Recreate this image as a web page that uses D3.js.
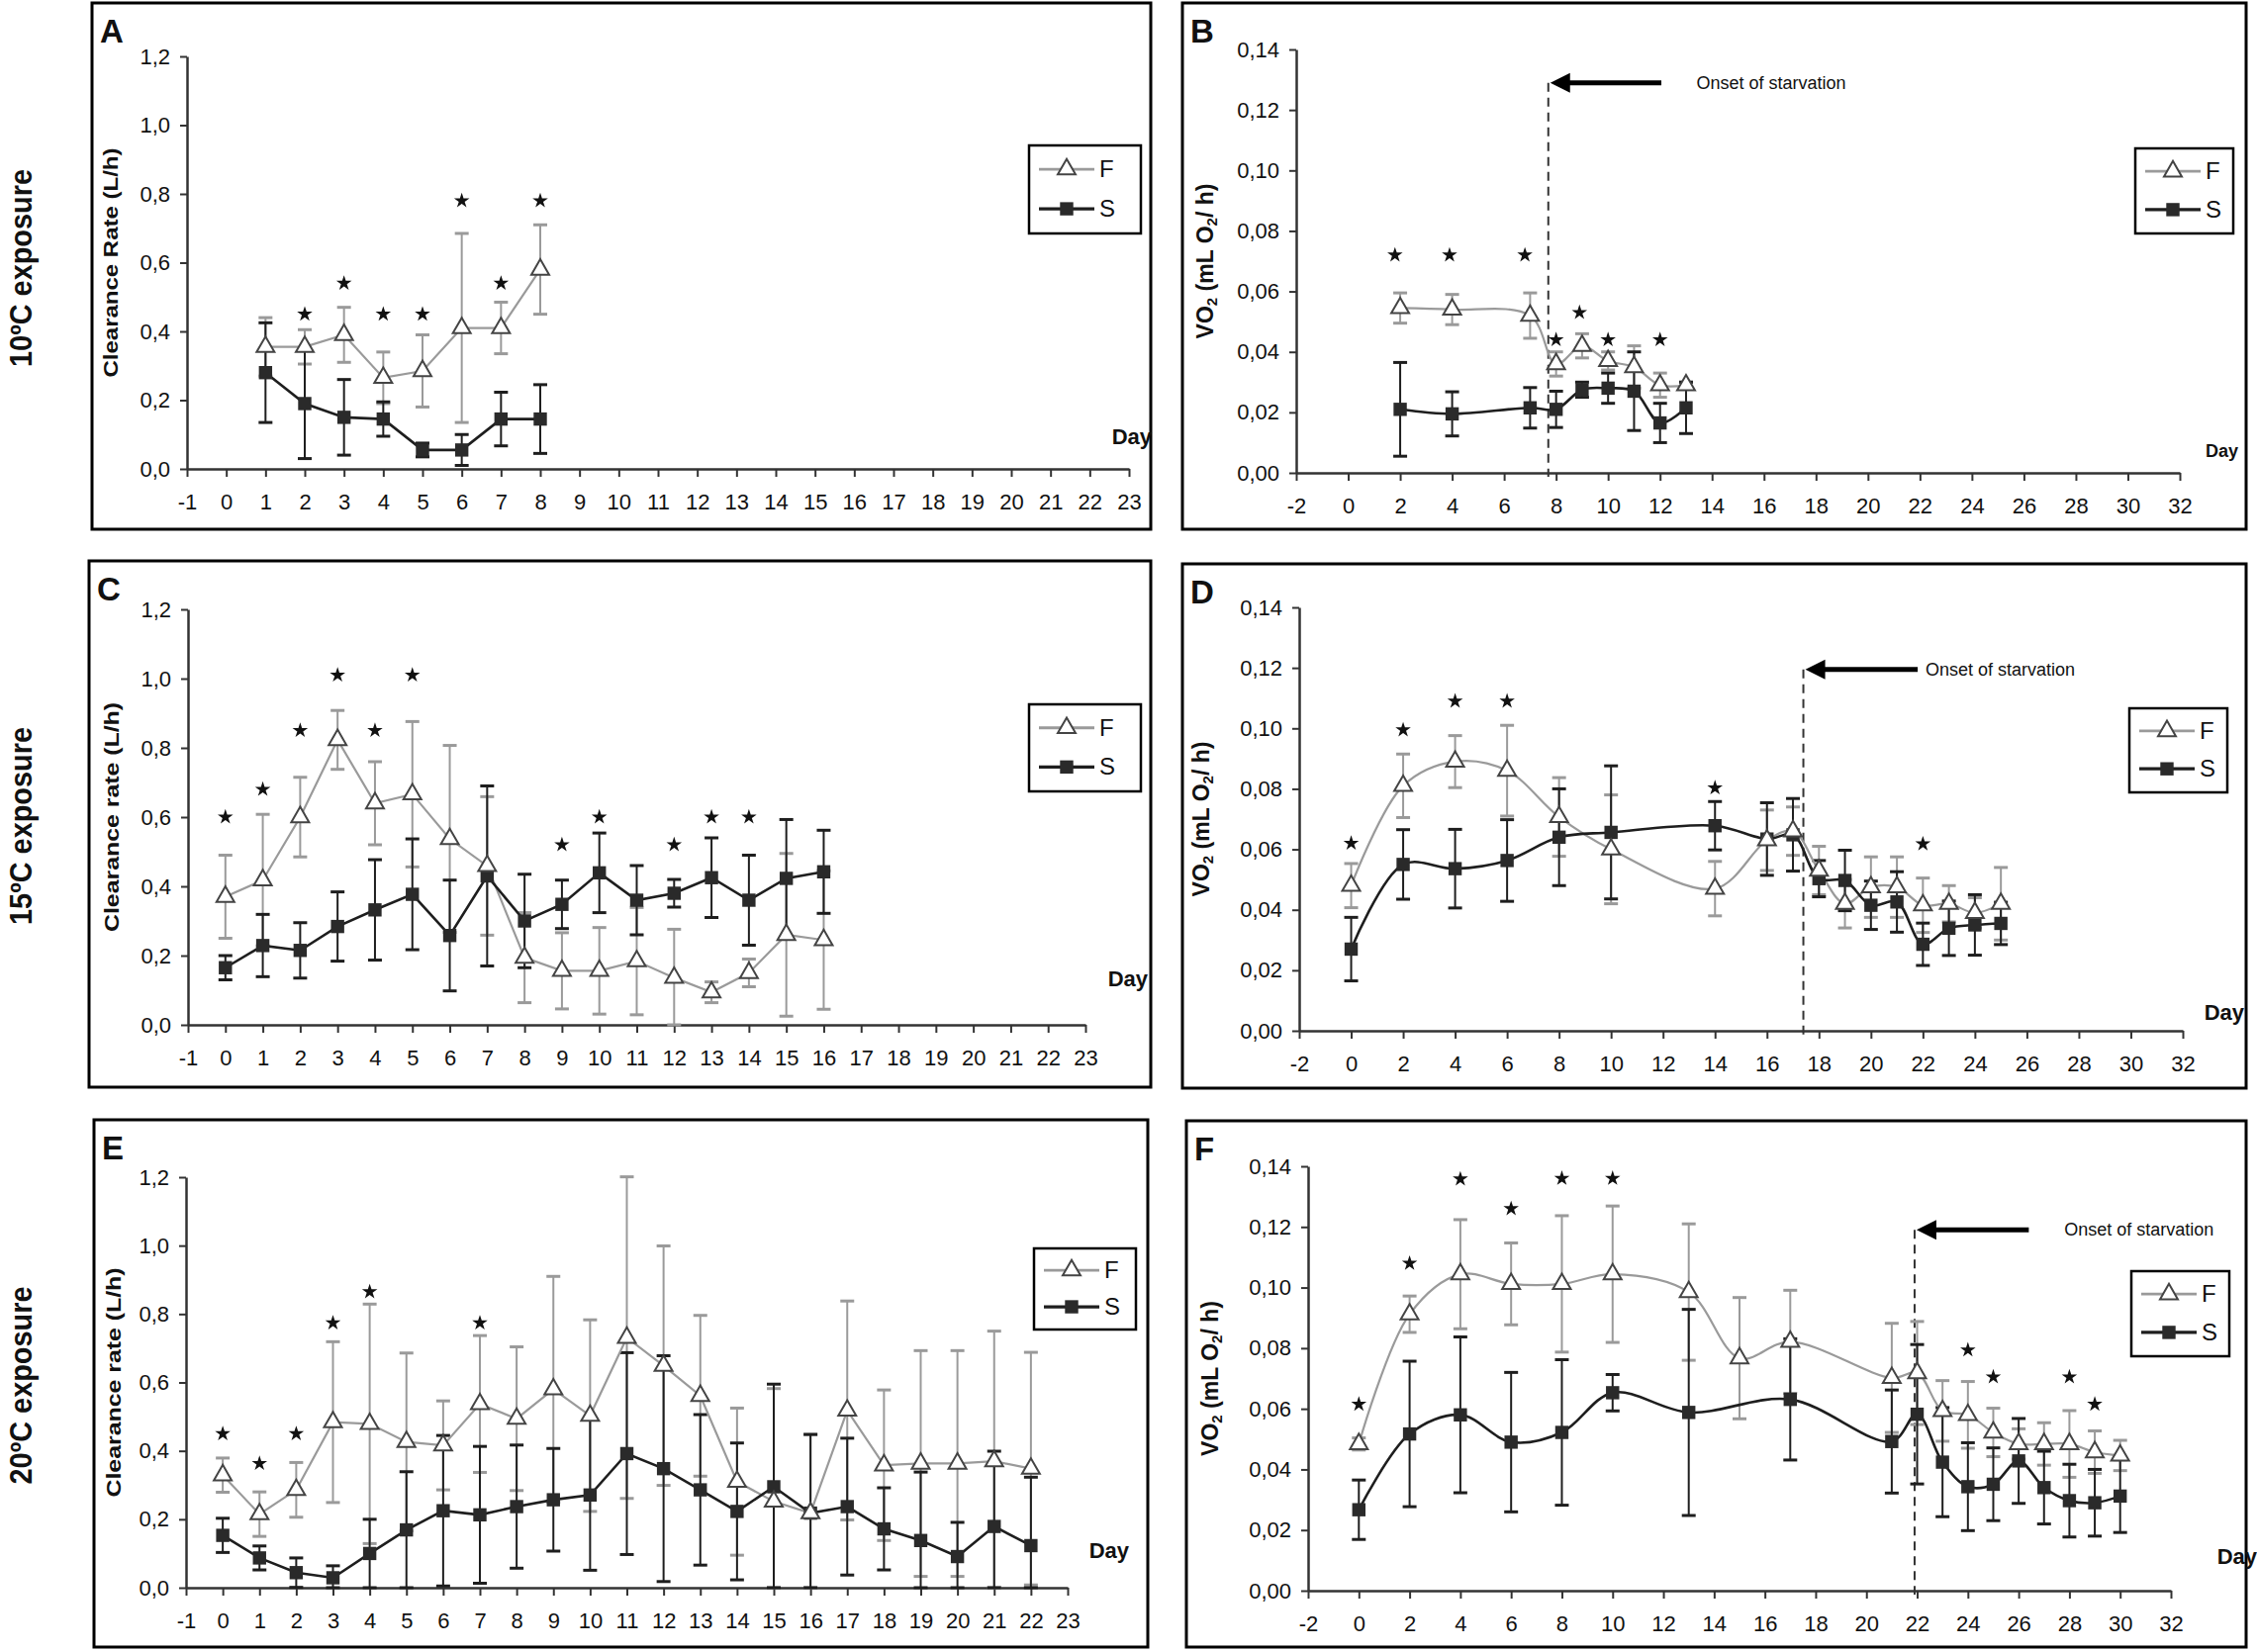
<!DOCTYPE html>
<html>
<head>
<meta charset="utf-8">
<script src="https://cdn.jsdelivr.net/npm/d3@7/dist/d3.min.js"></script>
<style>
    body { margin: 0; background: #fff; }
    svg { display: block; font-family: "Liberation Sans", Arial, sans-serif; }
    .axis path, .axis line { stroke: #333; }
    .axis path { stroke-width: 2.5; }
    .axis line { stroke-width: 2; }
    .axis text { font-size: 22px; fill: #111; }
</style>
</head>
<body>
<svg id="chart" width="2281" height="1670"></svg>
<script>
// ---- data ----
const rowLabels = ["10ºC exposure", "15ºC exposure", "20ºC exposure"];
const seriesNames = ["F", "S"];
const clearanceTicks = [0, 0.2, 0.4, 0.6, 0.8, 1.0, 1.2];
const vo2Ticks = [0, 0.02, 0.04, 0.06, 0.08, 0.10, 0.12, 0.14];
const clearanceDayTicks = d3.range(-1, 24);
const vo2DayTicks = d3.range(-2, 33, 2);

// A: clearance rate, 10ºC
const daysA = [1, 2, 3, 4, 5, 6, 7, 8];
const fA = [0.355, 0.355, 0.39, 0.265, 0.285, 0.41, 0.41, 0.58];
const fAErr = [0.085, 0.05, 0.08, 0.075, 0.105, 0.275, 0.075, 0.13];
const sA = [0.28, 0.19, 0.15, 0.145, 0.055, 0.055, 0.145, 0.145];
const sAErr = [0.145, 0.16, 0.11, 0.05, 0.02, 0.045, 0.078, 0.1];
const starDaysA = [2, 3, 4, 5, 6, 7, 8];
const starValsA = [0.45, 0.54, 0.45, 0.45, 0.78, 0.54, 0.78];

// B: VO2, 10ºC
const daysB = [2, 4, 7, 8, 9, 10, 11, 12, 13];
const fB = [0.0545, 0.054, 0.052, 0.036, 0.042, 0.037, 0.035, 0.029, 0.029];
const fBErr = [0.005, 0.005, 0.0075, 0.004, 0.004, 0.003, 0.007, 0.004, 0.001];
const sB = [0.021, 0.0195, 0.0215, 0.021, 0.0275, 0.028, 0.027, 0.0165, 0.0215];
const sBErr = [0.0155, 0.0073, 0.0067, 0.006, 0.0025, 0.005, 0.013, 0.0065, 0.0085];
const starDaysB = [1.8, 3.9, 6.8, 8, 8.9, 10, 12];
const starValsB = [0.072, 0.072, 0.072, 0.044, 0.053, 0.044, 0.044];

// C: clearance rate, 15ºC
const daysC = d3.range(0, 17);
const fC = [0.37, 0.418, 0.60, 0.823, 0.64, 0.666, 0.537, 0.459, 0.194, 0.156, 0.156, 0.184, 0.136, 0.094, 0.15, 0.26, 0.245];
const fCErr = [0.12, 0.19, 0.115, 0.085, 0.12, 0.21, 0.27, 0.2, 0.13, 0.11, 0.125, 0.155, 0.14, 0.03, 0.04, 0.235, 0.2];
const sC = [0.165, 0.229, 0.215, 0.284, 0.332, 0.377, 0.258, 0.43, 0.30, 0.348, 0.439, 0.36, 0.38, 0.425, 0.36, 0.423, 0.442];
const sCErr = [0.035, 0.09, 0.08, 0.1, 0.145, 0.16, 0.16, 0.26, 0.135, 0.07, 0.115, 0.1, 0.04, 0.115, 0.13, 0.17, 0.12];
const starDaysC = [0, 1, 2, 3, 4, 5, 9, 10, 12, 13, 14];
const starValsC = [0.60, 0.68, 0.85, 1.01, 0.85, 1.01, 0.52, 0.60, 0.52, 0.60, 0.60];

// D: VO2, 15ºC
const daysD = [0, 2, 4, 6, 8, 10, 14, 16, 17, 18, 19, 20, 21, 22, 23, 24, 25];
const fD = [0.048, 0.081, 0.089, 0.086, 0.0707, 0.060, 0.047, 0.063, 0.066, 0.053, 0.042, 0.0475, 0.0475, 0.0415, 0.042, 0.039, 0.042];
const fDErr = [0.0073, 0.0105, 0.0086, 0.015, 0.013, 0.018, 0.009, 0.01, 0.008, 0.008, 0.008, 0.01, 0.01, 0.009, 0.006, 0.005, 0.012];
const sD = [0.027, 0.055, 0.0536, 0.0563, 0.064, 0.0656, 0.0678, 0.0634, 0.0648, 0.0503, 0.0497, 0.0415, 0.0426, 0.0286, 0.0339, 0.035, 0.0355];
const sDErr = [0.0105, 0.0115, 0.013, 0.0135, 0.016, 0.022, 0.008, 0.012, 0.012, 0.006, 0.01, 0.008, 0.01, 0.007, 0.009, 0.01, 0.007];
const starDaysD = [0, 2, 4, 6, 14, 22];
const starValsD = [0.062, 0.0995, 0.109, 0.109, 0.0803, 0.0618];

// E: clearance rate, 20ºC
const daysE = d3.range(0, 23);
const fE = [0.329, 0.215, 0.286, 0.484, 0.479, 0.426, 0.416, 0.537, 0.494, 0.58, 0.503, 0.731, 0.649, 0.561, 0.31, 0.252, 0.218, 0.518, 0.358, 0.363, 0.363, 0.37, 0.348];
const fEErr = [0.05, 0.065, 0.08, 0.235, 0.35, 0.26, 0.13, 0.2, 0.21, 0.33, 0.28, 0.47, 0.35, 0.235, 0.215, 0.33, 0.23, 0.32, 0.22, 0.33, 0.33, 0.38, 0.34];
const sE = [0.153, 0.087, 0.044, 0.029, 0.10, 0.169, 0.225, 0.213, 0.237, 0.257, 0.271, 0.392, 0.348, 0.286, 0.223, 0.295, 0.218, 0.237, 0.172, 0.138, 0.091, 0.179, 0.123];
const sEErr = [0.05, 0.035, 0.043, 0.035, 0.1, 0.17, 0.22, 0.2, 0.18, 0.15, 0.22, 0.295, 0.33, 0.22, 0.2, 0.3, 0.23, 0.2, 0.12, 0.2, 0.1, 0.22, 0.2];
const starDaysE = [0, 1, 2, 3, 4, 7];
const starValsE = [0.45, 0.363, 0.45, 0.774, 0.865, 0.774];

// F: VO2, 20ºC
const fDaysF = [0, 2, 4, 6, 8, 10, 13, 15, 17, 21, 22, 23, 24, 25, 26, 27, 28, 29, 30];
const fF = [0.0484, 0.0912, 0.1044, 0.1012, 0.1012, 0.1044, 0.0985, 0.0767, 0.0821, 0.0702, 0.0718, 0.0593, 0.058, 0.0522, 0.0484, 0.0484, 0.0484, 0.0457, 0.0446];
const fFErr = [0.002, 0.006, 0.018, 0.0135, 0.0225, 0.0225, 0.0225, 0.02, 0.017, 0.018, 0.017, 0.01, 0.011, 0.008, 0.005, 0.007, 0.011, 0.007, 0.005];
const sDaysF = [0, 2, 4, 6, 8, 10, 13, 17, 21, 22, 23, 24, 25, 26, 27, 28, 29, 30];
const sF = [0.0267, 0.0517, 0.058, 0.049, 0.0522, 0.0653, 0.0588, 0.0631, 0.0492, 0.0582, 0.0424, 0.0343, 0.0351, 0.0428, 0.034, 0.0297, 0.029, 0.0312];
const sFErr = [0.0098, 0.024, 0.0257, 0.023, 0.024, 0.006, 0.034, 0.02, 0.017, 0.023, 0.018, 0.0145, 0.012, 0.014, 0.012, 0.012, 0.011, 0.012];
const starDaysF = [0, 2, 4, 6, 8, 10, 24, 25, 28, 29];
const starValsF = [0.0615, 0.108, 0.1358, 0.126, 0.136, 0.136, 0.0794, 0.0705, 0.0705, 0.0615];

// onset of starvation (B, D, F): day of the dashed line, arrow height, arrow tail day, text start day
const onsetLabel = "Onset of starvation";
const onsetDays = [7.7, 17.4, 21.9];
const onsetArrowVals = [0.129, 0.1195, 0.119];
const onsetArrowTails = [12.05, 21.8, 26.4];
const onsetTextDays = [13.4, 22.1, 27.8];

// ---- panel layout (pixels) ----
const clearanceFmt = function (d) { return d3.format(".1f")(d).replace(".", ","); };
const vo2Fmt = function (d) { return d3.format(".2f")(d).replace(".", ","); };

const panels = [
    {letter: "A", box: [93, 3, 1163, 535], x0: 189, x1: 1141, yTop: 57, yBot: 474, yLabX: 119, legend: [1040, 147, 1153, 236], dayPos: [1164, 449], daySize: 22,
     kind: "clearance", yLabel: "Clearance Rate (L/h)",
     f: [daysA, fA, fAErr], s: [daysA, sA, sAErr], stars: [starDaysA, starValsA], onset: -1},
    {letter: "B", box: [1195, 3, 2270, 535], x0: 1310, x1: 2203, yTop: 50, yBot: 478, yLabX: 1226, legend: [2158, 150, 2257, 236], dayPos: [2262, 462], daySize: 18,
     kind: "vo2",
     f: [daysB, fB, fBErr], s: [daysB, sB, sBErr], stars: [starDaysB, starValsB], onset: 0},
    {letter: "C", box: [90, 567, 1163, 1099], x0: 190, x1: 1097, yTop: 616, yBot: 1036, yLabX: 120, legend: [1040, 712, 1153, 800], dayPos: [1160, 997], daySize: 22,
     kind: "clearance", yLabel: "Clearance rate (L/h)",
     f: [daysC, fC, fCErr], s: [daysC, sC, sCErr], stars: [starDaysC, starValsC], onset: -1},
    {letter: "D", box: [1195, 570, 2270, 1100], x0: 1313, x1: 2206, yTop: 614, yBot: 1042, yLabX: 1222, legend: [2152, 716, 2251, 801], dayPos: [2268, 1031], daySize: 22,
     kind: "vo2",
     f: [daysD, fD, fDErr], s: [daysD, sD, sDErr], stars: [starDaysD, starValsD], onset: 1},
    {letter: "E", box: [95, 1132, 1160, 1665], x0: 188, x1: 1079, yTop: 1190, yBot: 1605, yLabX: 122, legend: [1045, 1262, 1148, 1344], dayPos: [1141, 1575], daySize: 22,
     kind: "clearance", yLabel: "Clearance rate (L/h)",
     f: [daysE, fE, fEErr], s: [daysE, sE, sEErr], stars: [starDaysE, starValsE], onset: -1},
    {letter: "F", box: [1199, 1133, 2270, 1665], x0: 1322, x1: 2194, yTop: 1179, yBot: 1608, yLabX: 1231, legend: [2154, 1285, 2253, 1371], dayPos: [2281, 1581], daySize: 22,
     kind: "vo2",
     f: [fDaysF, fF, fFErr], s: [sDaysF, sF, sFErr], stars: [starDaysF, starValsF], onset: 2}
];

const fColor = "#9a9a9a", sColor = "#1e1e1e";

const svg = d3.select("#chart");
svg.append("rect").attr("width", 2281).attr("height", 1670).attr("fill", "#fff");

// row labels
rowLabels.forEach(function (label, i) {
    const box = panels[i * 2].box;
    const cy = (box[1] + box[3]) / 2 + 2;
    svg.append("text")
        .attr("transform", "translate(32," + cy + ") rotate(-90)")
        .attr("text-anchor", "middle")
        .attr("font-size", 31)
        .attr("font-weight", "bold")
        .attr("fill", "#111")
        .attr("textLength", 200)
        .attr("lengthAdjust", "spacingAndGlyphs")
        .text(label);
});

panels.forEach(drawPanel);

function toPoints(series) {
    return series[0].map(function (d, i) { return {day: d, v: series[1][i], err: series[2][i]}; });
}

function drawPanel(p) {
    const g = svg.append("g");
    const isVo2 = p.kind === "vo2";

    // frame + letter
    g.append("rect")
        .attr("x", p.box[0]).attr("y", p.box[1])
        .attr("width", p.box[2] - p.box[0]).attr("height", p.box[3] - p.box[1])
        .attr("fill", "none").attr("stroke", "#000").attr("stroke-width", 3);
    g.append("text")
        .attr("x", p.box[0] + 8).attr("y", p.box[1] + 40)
        .attr("font-size", 33).attr("font-weight", "bold").attr("fill", "#111")
        .text(p.letter);

    const x = d3.scaleLinear().domain(isVo2 ? [-2, 32] : [-1, 23]).range([p.x0, p.x1]);
    const y = d3.scaleLinear().domain(isVo2 ? [0, 0.14] : [0, 1.2]).range([p.yBot, p.yTop]);

    //Draw x-axis
    g.append("g")
        .attr("class", "axis")
        .attr("transform", "translate(0," + p.yBot + ")")
        .call(d3.axisBottom(x)
            .tickValues(isVo2 ? vo2DayTicks : clearanceDayTicks)
            .tickSize(8).tickSizeOuter(0).tickPadding(17)
            .tickFormat(function (d) { return String(d); }));

    //Draw y-axis
    g.append("g")
        .attr("class", "axis")
        .attr("transform", "translate(" + p.x0 + ",0)")
        .call(d3.axisLeft(y)
            .tickValues(isVo2 ? vo2Ticks : clearanceTicks)
            .tickSize(7).tickSizeOuter(0).tickPadding(10)
            .tickFormat(isVo2 ? vo2Fmt : clearanceFmt));

    // y title
    const yt = g.append("text")
        .attr("transform", "translate(" + p.yLabX + "," + ((p.yTop + p.yBot) / 2) + ") rotate(-90)")
        .attr("text-anchor", "middle")
        .attr("font-size", 21).attr("font-weight", "bold").attr("fill", "#111");
    if (isVo2) {
        yt.attr("font-size", 23);
        yt.append("tspan").text("VO");
        yt.append("tspan").attr("font-size", 15).attr("dy", 4).text("2");
        yt.append("tspan").attr("dy", -4).text(" (mL O");
        yt.append("tspan").attr("font-size", 15).attr("dy", 4).text("2");
        yt.append("tspan").attr("dy", -4).text("/ h)");
    } else {
        yt.attr("textLength", 232).attr("lengthAdjust", "spacingAndGlyphs").text(p.yLabel);
    }

    // "Day"
    g.append("text")
        .attr("x", p.dayPos[0]).attr("y", p.dayPos[1])
        .attr("text-anchor", "end")
        .attr("font-size", p.daySize).attr("font-weight", "bold").attr("fill", "#111")
        .text("Day");

    // onset of starvation
    if (p.onset >= 0) {
        const ox = x(onsetDays[p.onset]);
        const oy = y(onsetArrowVals[p.onset]);
        g.append("line")
            .attr("x1", ox).attr("x2", ox).attr("y1", oy).attr("y2", p.yBot + 4)
            .attr("stroke", "#333").attr("stroke-width", 2).attr("stroke-dasharray", "9,6");
        g.append("line")
            .attr("x1", ox + 16).attr("x2", x(onsetArrowTails[p.onset])).attr("y1", oy).attr("y2", oy)
            .attr("stroke", "#000").attr("stroke-width", 5);
        g.append("path")
            .attr("d", "M" + (ox + 2) + "," + oy + "L" + (ox + 22) + "," + (oy - 10) + "L" + (ox + 22) + "," + (oy + 10) + "Z")
            .attr("fill", "#000");
        g.append("text")
            .attr("x", x(onsetTextDays[p.onset])).attr("y", oy + 6)
            .attr("font-size", 18).attr("fill", "#111")
            .text(onsetLabel);
    }

    const line = d3.line()
        .x(function (d) { return x(d.day); })
        .y(function (d) { return y(d.v); })
        .curve(isVo2 ? d3.curveCatmullRom.alpha(0.5) : d3.curveLinear);

    const series = [
        {name: seriesNames[0], pts: toPoints(p.f), color: fColor, width: 2.2},
        {name: seriesNames[1], pts: toPoints(p.s), color: sColor, width: 2.6}
    ];

    // error bars
    series.forEach(function (s) {
        const eb = g.append("g");
        s.pts.forEach(function (d) {
            const cx = x(d.day);
            const hi = y(d.v + d.err), lo = y(Math.max(0, d.v - d.err));
            eb.append("line").attr("x1", cx).attr("x2", cx).attr("y1", hi).attr("y2", lo)
                .attr("stroke", s.color).attr("stroke-width", 2);
            [hi, lo].forEach(function (yy) {
                eb.append("line").attr("x1", cx - 7).attr("x2", cx + 7).attr("y1", yy).attr("y2", yy)
                    .attr("stroke", s.color).attr("stroke-width", 3);
            });
        });
    });

    // lines
    series.forEach(function (s) {
        g.append("path").datum(s.pts).attr("d", line)
            .attr("fill", "none").attr("stroke", s.color).attr("stroke-width", s.width);
    });

    // markers
    const tri = d3.symbol(d3.symbolTriangle, 140);
    const sq = d3.symbol(d3.symbolSquare, 180);
    g.selectAll(".mf").data(series[1].pts).enter().append("path")
        .attr("transform", function (d) { return "translate(" + x(d.day) + "," + y(d.v) + ")"; })
        .attr("d", sq).attr("fill", "#2a2a2a");
    g.selectAll(".mt").data(series[0].pts).enter().append("path")
        .attr("transform", function (d) { return "translate(" + x(d.day) + "," + y(d.v) + ")"; })
        .attr("d", tri).attr("fill", "#fff").attr("stroke", "#444").attr("stroke-width", 2);

    // significance stars
    const star = d3.symbol(d3.symbolStar, 75);
    p.stars[0].forEach(function (d, i) {
        g.append("path")
            .attr("transform", "translate(" + x(d) + "," + y(p.stars[1][i]) + ")")
            .attr("d", star).attr("fill", "#111");
    });

    // legend
    const L = p.legend;
    g.append("rect").attr("x", L[0]).attr("y", L[1]).attr("width", L[2] - L[0]).attr("height", L[3] - L[1])
        .attr("fill", "#fff").attr("stroke", "#000").attr("stroke-width", 2.5);
    const rows = [L[1] + (L[3] - L[1]) * 0.27, L[1] + (L[3] - L[1]) * 0.72];
    series.forEach(function (s, i) {
        const ly = rows[i];
        g.append("line").attr("x1", L[0] + 10).attr("x2", L[0] + 66).attr("y1", ly).attr("y2", ly)
            .attr("stroke", s.color).attr("stroke-width", s.width + 0.6);
        g.append("path").attr("transform", "translate(" + (L[0] + 38) + "," + ly + ")")
            .attr("d", i === 0 ? tri : sq)
            .attr("fill", i === 0 ? "#fff" : "#2a2a2a")
            .attr("stroke", i === 0 ? "#444" : "none").attr("stroke-width", 2);
        g.append("text").attr("x", L[0] + 71).attr("y", ly + 8)
            .attr("font-size", 24).attr("fill", "#111").text(s.name);
    });
}
</script>
</body>
</html>
